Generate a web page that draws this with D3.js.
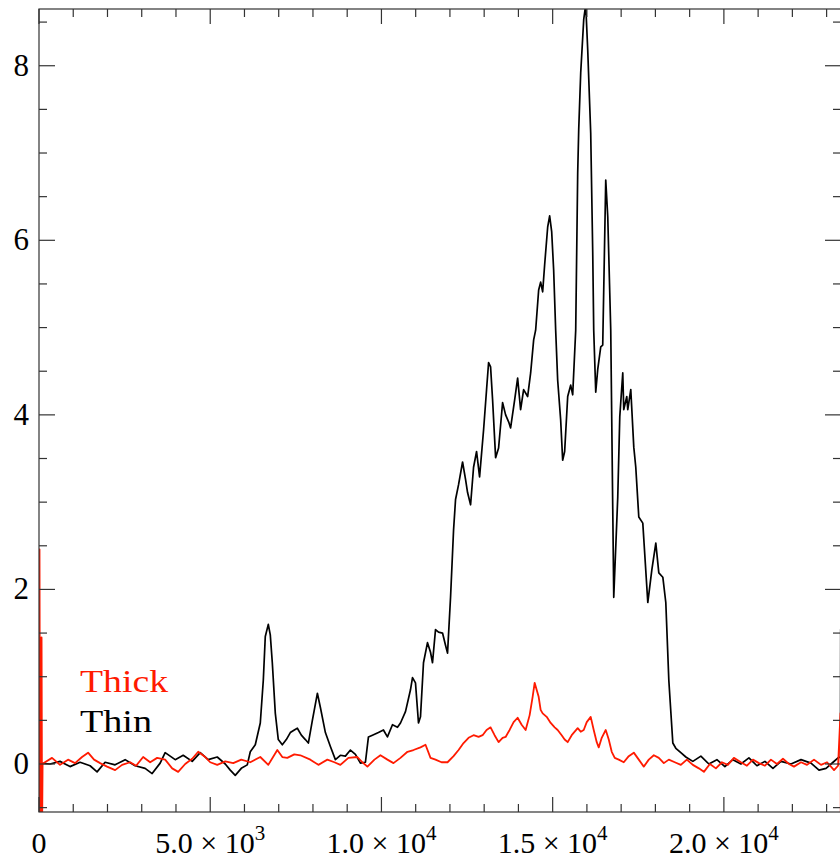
<!DOCTYPE html>
<html>
<head>
<meta charset="utf-8">
<script src="https://cdn.jsdelivr.net/npm/d3@7"></script>
<style>
  html, body { margin: 0; padding: 0; background: #fff; }
  text { font-family: "Liberation Serif", "Times New Roman", serif; }
</style>
</head>
<body>
<script>
// data: x in samples, y in signal units

var thinX = [29, 322, 614, 906, 1199, 1491, 1696, 1930, 2222, 2515, 2807, 3099, 3304, 3538, 3684, 3977, 4211, 4474, 4708, 4942,
  5205, 5439, 5585, 5731, 5907, 6082, 6170, 6316, 6462, 6550, 6608, 6696, 6754, 6813, 6901, 6988, 7105, 7222, 7339, 7456,
  7544, 7661, 7778, 7866, 7983, 8129, 8216, 8363, 8509, 8655, 8801, 8947, 9094, 9240, 9386, 9532, 9620, 9737, 9912, 10058,
  10175, 10322, 10468, 10556, 10702, 10848, 10907, 10994, 11082, 11140, 11228, 11345, 11433, 11491, 11579, 11667, 11784, 11871, 11930, 12018,
  12106, 12164, 12252, 12369, 12456, 12515, 12603, 12690, 12778, 12866, 12983, 13070, 13129, 13187, 13246, 13334, 13421, 13538, 13626, 13714,
  13772, 13889, 13977, 14064, 14152, 14269, 14357, 14445, 14503, 14591, 14649, 14708, 14766, 14854, 14912, 14971, 15029, 15088, 15146, 15234,
  15292, 15350, 15439, 15526, 15585, 15673, 15731, 15761, 15819, 15907, 15965, 16024, 16111, 16170, 16199, 16258, 16316, 16404, 16462, 16550,
  16609, 16696, 16784, 16901, 16960, 17047, 17076, 17164, 17193, 17281, 17369, 17427, 17515, 17632, 17778, 17895, 18012, 18100, 18217, 18304,
  18392, 18509, 18597, 18743, 18889, 19094, 19328, 19562, 19796, 20029, 20263, 20497, 20731, 20965, 21199, 21433, 21667, 21959, 22252, 22544,
  22778, 22983, 23188, 23334, 23405, 23412, 23418];
var thinY = [0.01, 0.0, 0.03, -0.03, 0.02, -0.02, -0.09, 0.02, -0.01, 0.05, -0.02, -0.05, -0.11, 0.01, 0.13, 0.05, 0.10, 0.03, 0.13, 0.05,
  0.08, 0.0, -0.07, -0.13, -0.05, -0.01, 0.14, 0.22, 0.47, 0.96, 1.46, 1.60, 1.48, 1.16, 0.58, 0.28, 0.22, 0.28, 0.36, 0.39,
  0.41, 0.33, 0.28, 0.24, 0.50, 0.81, 0.65, 0.36, 0.20, 0.05, 0.10, 0.09, 0.16, 0.11, 0.01, 0.02, 0.31, 0.33, 0.36, 0.39,
  0.31, 0.45, 0.42, 0.47, 0.60, 0.85, 0.99, 0.93, 0.47, 0.54, 1.16, 1.39, 1.28, 1.16, 1.54, 1.51, 1.50, 1.36, 1.27, 1.91,
  2.68, 3.03, 3.20, 3.46, 3.26, 3.11, 2.97, 3.40, 3.58, 3.29, 3.83, 4.29, 4.60, 4.55, 4.17, 3.51, 3.62, 4.14, 4.00, 3.92,
  3.85, 4.17, 4.42, 4.06, 4.29, 4.21, 4.48, 4.86, 4.97, 5.43, 5.52, 5.41, 5.72, 6.15, 6.28, 6.10, 5.66, 4.97, 4.40, 3.94,
  3.48, 3.58, 4.21, 4.34, 4.23, 4.97, 6.77, 7.27, 7.92, 8.53, 8.70, 8.18, 7.23, 5.86, 4.97, 4.26, 4.52, 4.78, 4.80, 6.69,
  6.27, 4.97, 1.91, 3.06, 3.98, 4.48, 4.06, 4.21, 4.06, 4.29, 3.63, 3.40, 2.83, 2.76, 1.85, 2.22, 2.53, 2.19, 2.14, 1.85,
  0.96, 0.24, 0.18, 0.13, 0.08, 0.03, 0.09, 0.0, 0.05, -0.03, 0.05, 0.0, 0.07, -0.02, 0.03, -0.05, 0.03, 0.0, 0.05, 0.01,
  -0.07, -0.05, 0.02, 0.07, 0.08, 1.54, 0.08];

var thickX = [0, 15, 30, 45, 60, 75, 90, 105, 175, 380, 614, 848, 1053, 1257, 1433, 1608, 1784, 1988, 2222, 2427,
  2661, 2836, 3041, 3246, 3450, 3684, 3889, 4064, 4269, 4474, 4649, 4854, 5000, 5205, 5439, 5673, 5907, 6170, 6462, 6696,
  6959, 7105, 7251, 7456, 7632, 7924, 8158, 8421, 8626, 8801, 9035, 9298, 9444, 9590, 9795, 9971, 10175, 10351, 10556, 10760,
  10936, 11140, 11287, 11433, 11579, 11754, 11930, 12106, 12252, 12398, 12544, 12690, 12837, 12954, 13070, 13187, 13304, 13421, 13538, 13626,
  13743, 13860, 13977, 14094, 14211, 14328, 14415, 14474, 14532, 14591, 14649, 14708, 14825, 14942, 15059, 15146, 15263, 15350, 15439, 15556,
  15643, 15731, 15819, 15907, 15995, 16111, 16199, 16287, 16345, 16433, 16550, 16638, 16725, 16813, 16930, 17076, 17222, 17369, 17515, 17661,
  17807, 17954, 18100, 18246, 18392, 18567, 18743, 18918, 19094, 19269, 19416, 19591, 19767, 19942, 20117, 20292, 20497, 20673, 20848, 21023,
  21199, 21374, 21550, 21725, 21901, 22047, 22252, 22427, 22632, 22837, 23012, 23217, 23334, 23405, 23415];
var thickY = [-0.8, 2.46, -0.8, 1.45, -0.8, 1.45, -0.8, 0.0, 0.02, 0.07, -0.01, 0.05, 0.01, 0.08, 0.13, 0.05, 0.01, -0.03, -0.07, -0.01,
  0.02, -0.02, 0.08, 0.02, 0.07, 0.05, -0.05, -0.09, 0.0, 0.06, 0.14, 0.08, 0.02, -0.01, 0.03, 0.01, 0.05, 0.02, 0.08, -0.01,
  0.16, 0.08, 0.07, 0.11, 0.10, 0.05, -0.01, 0.05, 0.02, -0.01, 0.07, 0.08, 0.02, -0.03, 0.05, 0.10, 0.05, 0.01, 0.07, 0.14,
  0.16, 0.19, 0.22, 0.07, 0.05, 0.02, 0.02, 0.09, 0.16, 0.24, 0.30, 0.33, 0.31, 0.33, 0.39, 0.42, 0.33, 0.25, 0.30, 0.31,
  0.39, 0.48, 0.53, 0.45, 0.39, 0.56, 0.77, 0.93, 0.85, 0.77, 0.62, 0.58, 0.54, 0.47, 0.42, 0.39, 0.33, 0.28, 0.25, 0.33,
  0.37, 0.41, 0.37, 0.39, 0.48, 0.54, 0.39, 0.25, 0.19, 0.30, 0.39, 0.28, 0.14, 0.07, 0.05, 0.02, 0.09, 0.13, 0.05, -0.03,
  0.05, 0.10, 0.07, 0.01, 0.05, 0.02, -0.01, 0.05, -0.01, -0.05, -0.09, 0.0, -0.05, 0.02, -0.01, 0.07, 0.02, -0.02, 0.05, 0.01,
  -0.02, 0.05, 0.0, 0.06, 0.0, -0.03, 0.02, -0.01, 0.05, -0.01, 0.02, -0.07, -0.02, 0.58, -0.8];

var seriesNames = ["Thick", "Thin"];
var seriesColors = ["#ff1a00", "#000000"];

var yTicks = [0, 2, 4, 6, 8];
var xTicks = [0, 5000, 10000, 15000, 20000];
var xTickMantissa = ["0", "5.0", "1.0", "1.5", "2.0"];
var xTickExponent = ["", "3", "4", "4", "4"];

var width = 840,
    height = 860,
    plotLeft = 39,
    plotRight = 841,
    plotTop = 9,
    plotBottom = 812;

var x = d3.scaleLinear().domain([0, 23420]).range([plotLeft, plotRight]);
var y = d3.scaleLinear().domain([-0.55, 8.65]).range([plotBottom, plotTop]);

var svg = d3.select("body").append("svg")
    .attr("width", width)
    .attr("height", height);

svg.append("defs").append("clipPath")
    .attr("id", "plotclip")
  .append("rect")
    .attr("x", plotLeft)
    .attr("y", plotTop)
    .attr("width", plotRight - plotLeft)
    .attr("height", plotBottom - plotTop);

var line = d3.line()
    .x((d) => x(d[0]))
    .y((d) => y(d[1]));

var thin = d3.zip(thinX, thinY),
    thick = d3.zip(thickX, thickY);

var plot = svg.append("g").attr("clip-path", "url(#plotclip)");

plot.append("path")
    .datum(thin)
    .attr("d", line)
    .attr("fill", "none")
    .attr("stroke", seriesColors[1])
    .attr("stroke-width", 1.7)
    .attr("stroke-linejoin", "round");

plot.append("path")
    .datum(thick)
    .attr("d", line)
    .attr("fill", "none")
    .attr("stroke", seriesColors[0])
    .attr("stroke-width", 1.8)
    .attr("stroke-linejoin", "round");

// axis box, ticks point inward on all four sides
var axisColor = "#333";
var xMinor = d3.range(0, 23420, 1000),
    yMinor = d3.range(-0.5, 8.65, 0.5);

var frame = svg.append("g")
    .attr("stroke", axisColor)
    .attr("stroke-width", 1.2)
    .attr("fill", "none");

frame.append("rect")
    .attr("x", plotLeft)
    .attr("y", plotTop)
    .attr("width", plotRight - plotLeft)
    .attr("height", plotBottom - plotTop);

function tickLen(v, majors, big, small) {
  return majors.indexOf(v) >= 0 ? big : small;
}

frame.selectAll(".xb")
    .data(xMinor)
  .enter().append("line")
    .attr("x1", (d) => x(d)).attr("x2", (d) => x(d))
    .attr("y1", plotBottom).attr("y2", (d) => plotBottom - tickLen(d, xTicks, 15, 8));

frame.selectAll(".xt")
    .data(xMinor)
  .enter().append("line")
    .attr("x1", (d) => x(d)).attr("x2", (d) => x(d))
    .attr("y1", plotTop).attr("y2", (d) => plotTop + tickLen(d, xTicks, 15, 8));

frame.selectAll(".yl")
    .data(yMinor)
  .enter().append("line")
    .attr("y1", (d) => y(d)).attr("y2", (d) => y(d))
    .attr("x1", plotLeft).attr("x2", (d) => plotLeft + tickLen(d, yTicks, 16, 8));

frame.selectAll(".yr")
    .data(yMinor)
  .enter().append("line")
    .attr("y1", (d) => y(d)).attr("y2", (d) => y(d))
    .attr("x1", plotRight).attr("x2", (d) => plotRight - tickLen(d, yTicks, 16, 8));

// tick labels
svg.selectAll(".ylab")
    .data(yTicks)
  .enter().append("text")
    .attr("x", 29)
    .attr("y", (d) => y(d) + 10)
    .attr("text-anchor", "end")
    .attr("font-size", 31)
    .text((d) => d);

var xl = svg.selectAll(".xlab")
    .data(xTicks)
  .enter().append("text")
    .attr("x", (d) => x(d))
    .attr("y", 853)
    .attr("text-anchor", "middle")
    .attr("font-size", 30);

xl.append("tspan")
    .text((d, i) => xTickExponent[i] ? xTickMantissa[i] + "\u2005\u00d7\u200510" : xTickMantissa[i]);

xl.append("tspan")
    .attr("dy", -13)
    .attr("font-size", 21)
    .text((d, i) => xTickExponent[i]);

// legend
svg.selectAll(".leg")
    .data(seriesNames)
  .enter().append("text")
    .attr("x", 80)
    .attr("y", (d, i) => 692 + i * 40)
    .attr("font-size", 31)
    .attr("textLength", (d, i) => i === 0 ? 88 : 72)
    .attr("lengthAdjust", "spacingAndGlyphs")
    .attr("fill", (d, i) => seriesColors[i])
    .text((d) => d);
</script>
</body>
</html>
